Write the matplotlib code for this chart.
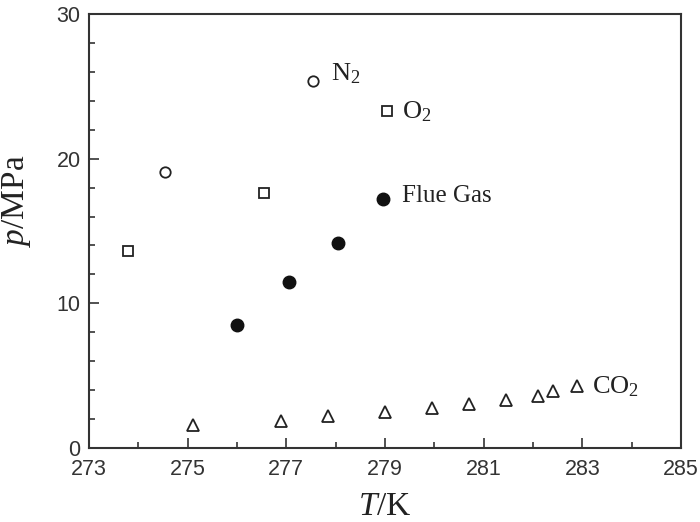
import matplotlib
matplotlib.use("Agg")
import matplotlib.pyplot as plt
from matplotlib.ticker import MultipleLocator

plt.rcParams['mathtext.fontset'] = 'custom'
plt.rcParams['mathtext.rm'] = 'Liberation Serif'
plt.rcParams['mathtext.it'] = 'Liberation Serif:italic'

# data (T in K, p in MPa)
n2_T = [274.55, 277.55]
n2_p = [19.1, 25.4]

o2_T = [273.8, 276.55, 279.05]
o2_p = [13.6, 17.6, 23.3]

flue_T = [276.0, 277.05, 278.05, 278.95]
flue_p = [8.5, 11.5, 14.2, 17.2]

co2_T = [275.1, 276.9, 277.85, 279.0, 279.95, 280.7, 281.45, 282.1, 282.4, 282.9]
co2_p = [1.6, 1.85, 2.2, 2.5, 2.75, 3.0, 3.3, 3.6, 3.9, 4.3]

fig = plt.figure(figsize=(7, 5.22), dpi=100)
ax = fig.add_axes([0.127, 0.142, 0.846, 0.831])

ax.plot(n2_T, n2_p, 'o', ms=7.5, mfc='white', mec='#222222', mew=1.3)
ax.plot(o2_T, o2_p, 's', ms=7, mfc='white', mec='#222222', mew=1.3)
ax.plot(flue_T, flue_p, 'o', ms=9, color='#111111')
ax.plot(co2_T, co2_p, '^', ms=8, mfc='white', mec='#222222', mew=1.3)

serif = 'Liberation Serif'
ax.text(277.9, 25.0, 'N$_2$', fontsize=19, family=serif, va='bottom', color='#222222')
ax.text(279.35, 22.4, 'O$_2$', fontsize=19, family=serif, va='bottom', color='#222222')
ax.text(279.35, 17.4, 'Flue Gas', fontsize=18, family=serif, va='center', color='#222222')
ax.text(283.2, 3.4, 'CO$_2$', fontsize=19, family=serif, va='bottom', color='#222222')

ax.set_xlim(273, 285)
ax.set_ylim(0, 30)
ax.set_xticks([273, 275, 277, 279, 281, 283, 285])
ax.xaxis.set_minor_locator(MultipleLocator(1))
ax.yaxis.set_major_locator(MultipleLocator(10))
ax.yaxis.set_minor_locator(MultipleLocator(2))
ax.tick_params(which='both', direction='in', width=1.2, color='#333333')
ax.tick_params(which='major', length=7, labelsize=15.5, labelcolor='#333333')
ax.tick_params(which='minor', length=4)
ax.tick_params(axis='x', which='major', pad=8)
ax.tick_params(axis='y', which='major', pad=6)
for lab in ax.get_xticklabels() + ax.get_yticklabels():
    lab.set_family('Liberation Sans')
for sp in ax.spines.values():
    sp.set_linewidth(1.5)
    sp.set_color('#333333')

ax.set_xlabel('$\\mathit{T}$/K', fontsize=24, family=serif, color='#222222')
ax.set_ylabel('$\\mathit{p}$/MPa', fontsize=24, family=serif, color='#222222')
ax.xaxis.set_label_coords(0.5, -0.1)
ax.yaxis.set_label_coords(-0.095, 0.57)

fig.savefig('out.png', dpi=100)
